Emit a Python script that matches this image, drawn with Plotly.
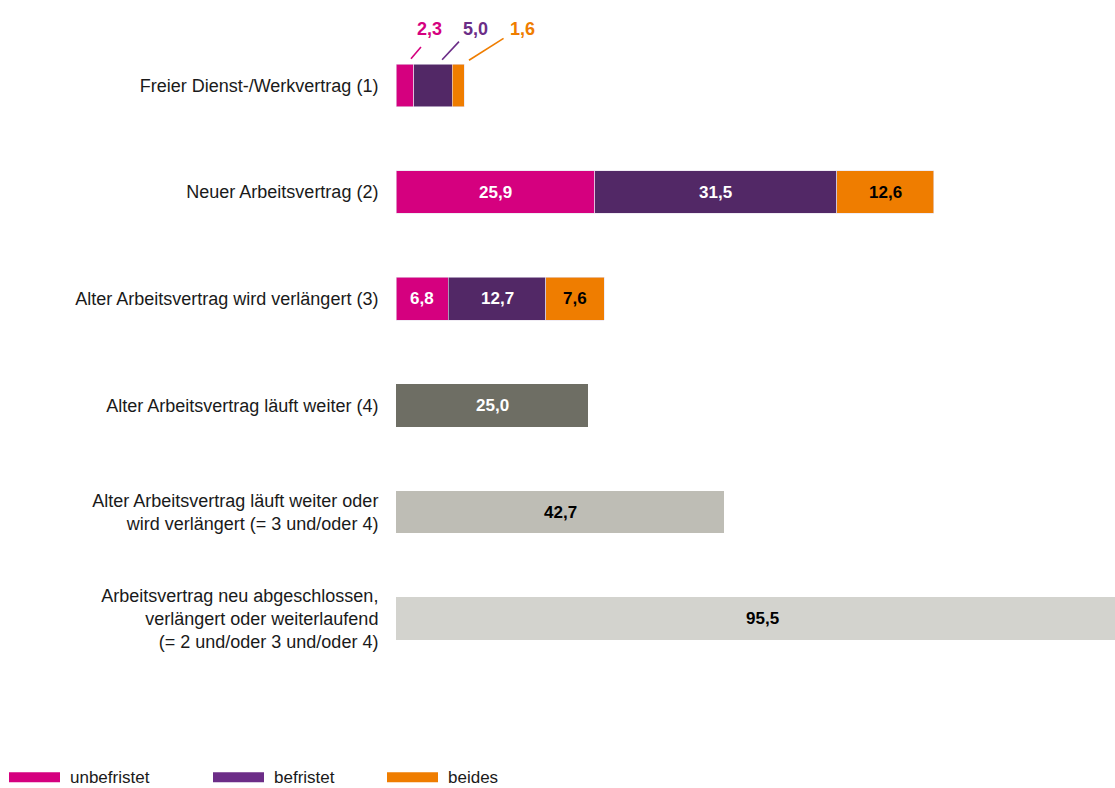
import plotly.graph_objects as go

categories = [
    "Freier Dienst-/Werkvertrag (1)",
    "Neuer Arbeitsvertrag (2)",
    "Alter Arbeitsvertrag wird verlängert (3)",
    "Alter Arbeitsvertrag läuft weiter (4)",
    "Alter Arbeitsvertrag läuft weiter oder<br>wird verlängert (= 3 und/oder 4)",
    "Arbeitsvertrag neu abgeschlossen,<br>verlängert oder weiterlaufend<br>(= 2 und/oder 3 und/oder 4)",
]
series_names = ["unbefristet", "befristet", "beides"]
unbefristet = [2.3, 25.9, 6.8]
befristet = [5.0, 31.5, 12.7]
beides = [1.6, 12.6, 7.6]
total_values = [25.0, 42.7, 95.5]

def fmt(v):
    return f"{v:.1f}".replace(".", ",")

C_MAG = "#D5007F"
C_PUR = "#522866"
C_PUR_LEG = "#6C2D87"
C_ORA = "#EF7D00"
total_colors = ["#6E6E64", "#BEBDB5", "#D3D3CE"]
total_text_colors = ["white", "black", "black"]
seg_colors = [C_MAG, C_PUR, C_ORA]
seg_text_colors = ["white", "white", "black"]

FONT = "Liberation Sans Narrow, Arial Narrow, Liberation Sans, Arial, sans-serif"

W, H = 1115, 788
ML = 396
MR = 0
MT = 31.5
MB = H - 672.5
PX_PER_UNIT = 7.682
XMAX = (W - ML - MR) / PX_PER_UNIT

fig = go.Figure()
seg_data = [unbefristet, befristet, beides]
idx_seg = list(range(len(unbefristet)))
for name, vals, col in zip(series_names, seg_data, seg_colors):
    fig.add_trace(go.Bar(
        y=idx_seg, x=vals, orientation="h", name=name, width=0.4,
        marker=dict(color=col, line=dict(color="#E6E0EC", width=0.6)),
        showlegend=False, hoverinfo="x+name",
    ))
idx_tot = [len(unbefristet) + i for i in range(len(total_values))]
fig.add_trace(go.Bar(
    y=idx_tot, x=total_values, orientation="h", name="gesamt", width=0.4,
    marker=dict(color=total_colors, line=dict(width=0)),
    showlegend=False, hoverinfo="x",
))

plot_h = H - MT - MB
def vx(px):  # pixel -> paper
    return (px - ML) / (W - ML - MR)
def vy(py):  # pixel -> paper
    return (H - MB - py) / plot_h

annotations = []
shapes = []
LBL = 17
for r in idx_seg[1:]:
    cum = 0
    for k, vals in enumerate(seg_data):
        v = vals[r]
        annotations.append(dict(x=cum + v / 2, y=r, xref="x", yref="y", text=f"<b>{fmt(v)}</b>",
                                showarrow=False, font=dict(family=FONT, size=LBL, color=seg_text_colors[k])))
        cum += v
for r, v, tc in zip(idx_tot, total_values, total_text_colors):
    annotations.append(dict(x=v / 2, y=r, xref="x", yref="y", text=f"<b>{fmt(v)}</b>",
                            showarrow=False, font=dict(family=FONT, size=LBL, color=tc)))

# row 1: labels above with leader lines
label_cols = [C_MAG, "#6B2D87", C_ORA]
lead_dx0 = [-0.35, -1.3, 0.6]
lead_dx1 = [1.3, 2.2, 4.5]
lead_y0 = [-0.25, -0.24, -0.235]
lead_y1 = [-0.36, -0.41, -0.44]
lab_dx = [2.0, 3.0, 7.6]
cum = 0
for k, vals in enumerate(seg_data):
    v = vals[0]
    end = cum + v
    shapes.append(dict(type="line", xref="x", yref="y",
                       x0=end + lead_dx0[k], y0=lead_y0[k],
                       x1=end + lead_dx0[k] + lead_dx1[k], y1=lead_y1[k],
                       line=dict(color=label_cols[k], width=1.6)))
    annotations.append(dict(x=end + lab_dx[k], y=vy(28), xref="x", yref="paper", text=f"<b>{fmt(v)}</b>",
                            showarrow=False, yanchor="middle",
                            font=dict(family=FONT, size=LBL + 1, color=label_cols[k])))
    cum = end

# manual legend
leg_x = [9, 213, 387]
leg_cols = [C_MAG, C_PUR_LEG, C_ORA]
for x0, col, name in zip(leg_x, leg_cols, series_names):
    shapes.append(dict(type="rect", xref="paper", yref="paper",
                       x0=vx(x0), x1=vx(x0 + 51), y0=vy(783), y1=vy(773),
                       fillcolor=col, line=dict(width=0)))
    annotations.append(dict(x=vx(x0 + 59), y=vy(778), xref="paper", yref="paper", text=name,
                            showarrow=False, xanchor="left", yanchor="middle",
                            font=dict(family=FONT, size=17, color="#1a1a1a")))

fig.update_layout(
    width=W, height=H, barmode="stack",
    margin=dict(l=ML, r=MR, t=MT, b=MB, pad=0),
    paper_bgcolor="white", plot_bgcolor="white",
    showlegend=False,
    font=dict(family=FONT, size=18, color="#1a1a1a"),
    xaxis=dict(range=[0, XMAX], visible=False, showgrid=False, zeroline=False, fixedrange=True),
    yaxis=dict(range=[5.5, -0.5], tickmode="array", tickvals=list(range(len(categories))),
               ticktext=categories, showgrid=False, zeroline=False, showline=False,
               ticks="outside", ticklen=13, tickcolor="rgba(0,0,0,0)",
               tickfont=dict(family=FONT, size=18, color="#1a1a1a")),
    annotations=annotations, shapes=shapes,
)

fig.write_html(
    "out.html",
    config={"displayModeBar": False},
    post_script="document.body.style.margin='0';document.body.style.overflow='hidden';",
)
